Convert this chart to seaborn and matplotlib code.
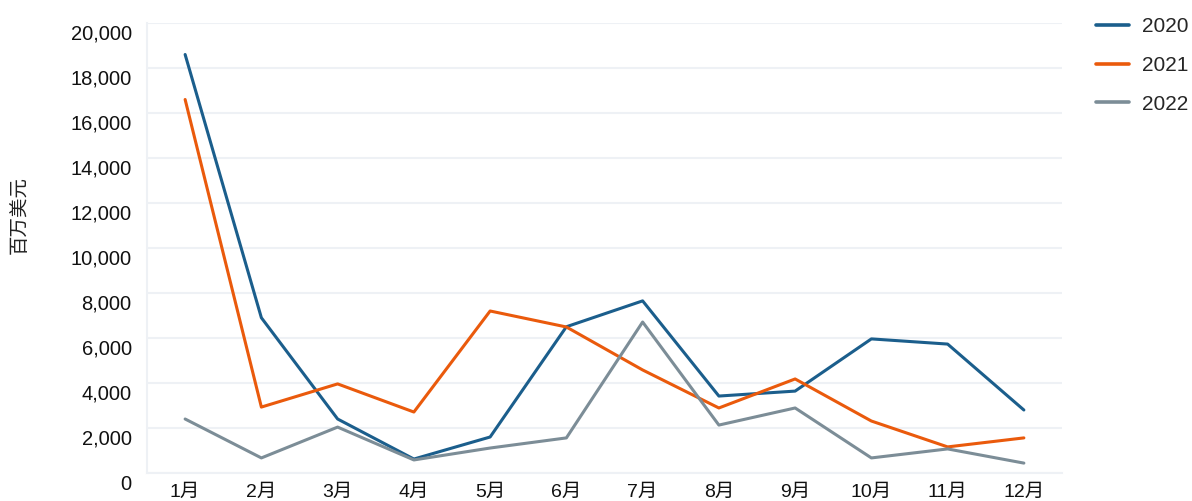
import seaborn as sns
import pandas as pd
import matplotlib
matplotlib.use("Agg")
import matplotlib.pyplot as plt
import matplotlib.transforms as mtransforms

months = ["1月", "2月", "3月", "4月", "5月", "6月", "7月", "8月", "9月", "10月", "11月", "12月"]
v2020 = [18600, 6900, 2400, 620, 1600, 6500, 7650, 3420, 3640, 5960, 5730, 2800]
v2021 = [16600, 2930, 3960, 2710, 7200, 6490, 4580, 2890, 4180, 2310, 1160, 1560]
v2022 = [2400, 670, 2040, 580, 1110, 1560, 6710, 2130, 2890, 670, 1070, 440]
years = ["2020", "2021", "2022"]
colors = {"2020": "#1b5e8c", "2021": "#ea5a0c", "2022": "#7c8d97"}

rows = []
for yr, vals in zip(years, [v2020, v2021, v2022]):
    for m, v in zip(months, vals):
        rows.append({"month": m, "value": v, "year": yr})
df = pd.DataFrame(rows)

sns.set_style("white")
plt.rcParams["font.family"] = ["Liberation Sans", "Noto Sans CJK SC", "DejaVu Sans"]

fig = plt.figure(figsize=(11.92, 5.01), dpi=100)
ax = fig.add_axes([147 / 1192, 28 / 501, (1062 - 147) / 1192, 450 / 501])

sns.lineplot(data=df, x="month", y="value", hue="year", palette=colors,
             linewidth=2.2, sort=False, ax=ax, legend=False)

grid_c = "#eef1f5"
ax.set_xlim(-0.5, 11.5)
ax.set_ylim(0, 20000)
ax.set_yticks(range(0, 20001, 2000))
ax.set_yticklabels([f"{t:,}" for t in range(0, 20001, 2000)])
ax.yaxis.grid(True, color=grid_c, linewidth=1.5)
ax.set_axisbelow(True)
for s in ["top", "right"]:
    ax.spines[s].set_visible(False)
ax.spines["left"].set_color(grid_c)
ax.spines["left"].set_linewidth(1.5)
ax.spines["bottom"].set_color(grid_c)
ax.spines["bottom"].set_linewidth(1.5)
ax.tick_params(axis="y", length=0, labelsize=14.5, colors="#111111", pad=11)
ax.tick_params(axis="x", length=0, labelsize=14, colors="#111111", pad=8)

shift = mtransforms.ScaledTranslation(0, -9 / 100, fig.dpi_scale_trans)
for lab in ax.get_yticklabels():
    lab.set_transform(lab.get_transform() + shift)

ax.set_xlabel("")
ax.set_ylabel("")
fig.text(20 / 1192, 1 - 215 / 501, "百万美元", rotation=90, fontsize=14,
         color="#222222", ha="center", va="center")

handles = [plt.Line2D([], [], color=colors[y], linewidth=2.6) for y in years]
fig.legend(handles, years, loc="upper left", bbox_to_anchor=(1096 / 1192, 1 - 17 / 501),
           frameon=False, fontsize=15, handlelength=1.6, handletextpad=0.6,
           labelspacing=0.95, borderpad=0, borderaxespad=0)

fig.savefig("out.png", dpi=100)
